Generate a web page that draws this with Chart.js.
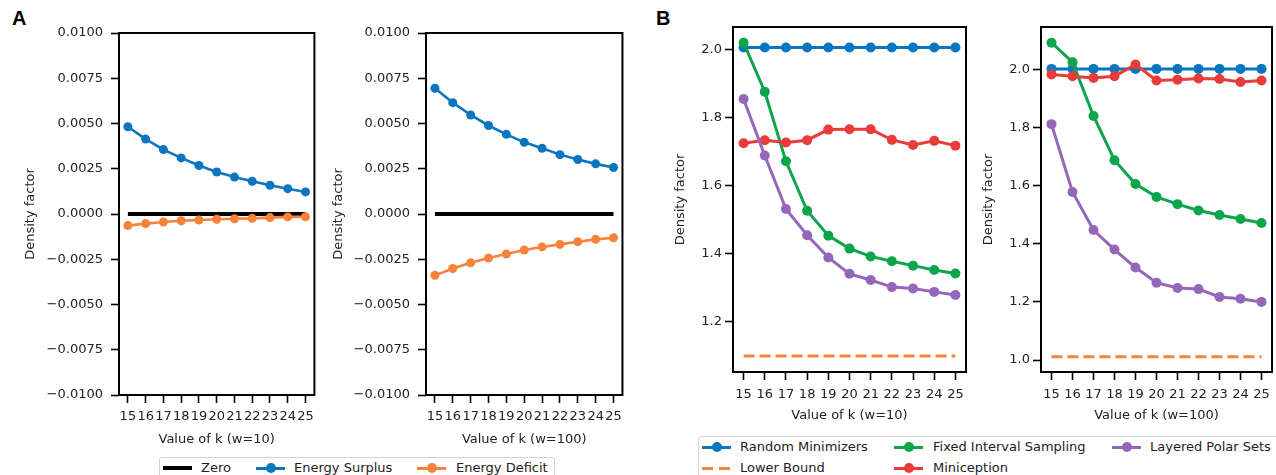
<!DOCTYPE html>
<html>
<head>
<meta charset="utf-8">
<script src="https://cdn.jsdelivr.net/npm/chart.js@4/dist/chart.umd.min.js"></script>
<style>
  body { margin: 0; width: 1276px; height: 475px; overflow: hidden; background: #fff; position: relative; font-family: "DejaVu Sans", sans-serif; }
  canvas { position: absolute; top: 0; }
  .tag { position: absolute; font: bold 20px "Liberation Sans", Arial, sans-serif; line-height: 20px; color: #000; }
  .legend-box { position: absolute; border: 1px solid #d4d4d4; border-radius: 3px; background: #fff; }
  .legend-text { position: absolute; font-size: 13px; line-height: 16px; color: #222; white-space: nowrap; }
  .handle { position: absolute; width: 29px; height: 16px; }
  .handle .ln { position: absolute; left: 0; right: 0; top: 50%; }
  .handle .dot { position: absolute; left: 50%; top: 50%; width: 10px; height: 10px; margin: -5px 0 0 -5px; border-radius: 50%; }
</style>
</head>
<body>
<div class="tag" style="left:12px;top:8px">A</div>
<div class="tag" style="left:656px;top:8px">B</div>
<canvas id="chart-a10"></canvas>
<canvas id="chart-a100"></canvas>
<canvas id="chart-b10"></canvas>
<canvas id="chart-b100"></canvas>
<script>
// 値はすべて図から読み取ったもの
const kValues = ["15", "16", "17", "18", "19", "20", "21", "22", "23", "24", "25"];

const zeroLine = [0, 0, 0, 0, 0, 0, 0, 0, 0, 0, 0];
const surplusW10 = [0.00482, 0.00414, 0.00356, 0.0031, 0.00268, 0.00232, 0.00204, 0.00181, 0.00159, 0.0014, 0.00122];
const deficitW10 = [-0.00064, -0.00053, -0.00044, -0.00037, -0.00033, -0.00029, -0.00026, -0.00024, -0.0002, -0.00016, -0.00015];
const surplusW100 = [0.00695, 0.00615, 0.00547, 0.00489, 0.0044, 0.00396, 0.00363, 0.00328, 0.00301, 0.00277, 0.00257];
const deficitW100 = [-0.00339, -0.00301, -0.0027, -0.00243, -0.00221, -0.00199, -0.00182, -0.00168, -0.00153, -0.0014, -0.00131];

const randomW10 = [2.005, 2.005, 2.005, 2.005, 2.005, 2.005, 2.005, 2.005, 2.005, 2.005, 2.005];
const lowerW10 = [1.1, 1.1, 1.1, 1.1, 1.1, 1.1, 1.1, 1.1, 1.1, 1.1, 1.1];
const fixedW10 = [2.019, 1.875, 1.671, 1.526, 1.453, 1.415, 1.392, 1.378, 1.365, 1.352, 1.342];
const miniW10 = [1.724, 1.733, 1.726, 1.733, 1.764, 1.765, 1.765, 1.734, 1.719, 1.731, 1.717];
const polarW10 = [1.854, 1.688, 1.531, 1.454, 1.389, 1.341, 1.323, 1.302, 1.298, 1.288, 1.279];

const randomW100 = [2.001, 2.001, 2.001, 2.001, 2.001, 2.001, 2.001, 2.001, 2.001, 2.001, 2.001];
const lowerW100 = [1.011, 1.011, 1.011, 1.011, 1.011, 1.011, 1.011, 1.011, 1.011, 1.011, 1.011];
const fixedW100 = [2.091, 2.024, 1.839, 1.687, 1.605, 1.561, 1.536, 1.514, 1.499, 1.485, 1.471];
const miniW100 = [1.982, 1.976, 1.97, 1.976, 2.016, 1.961, 1.964, 1.968, 1.966, 1.956, 1.961];
const polarW100 = [1.811, 1.578, 1.447, 1.38, 1.318, 1.266, 1.248, 1.244, 1.217, 1.211, 1.2];

const ticksA = [-0.01, -0.0075, -0.005, -0.0025, 0, 0.0025, 0.005, 0.0075, 0.01];
const ticksB10 = [1.2, 1.4, 1.6, 1.8, 2.0];
const ticksB100 = [1.0, 1.2, 1.4, 1.6, 1.8, 2.0];

(() => {
  const C = {
    black: "#000000",
    blue: "#0a76bf",
    orange: "#f7833a",
    green: "#0ca54c",
    red: "#ea3b3b",
    purple: "#9467b9",
  };
  const TEXT = "#222222";

  Chart.defaults.font.family = '"DejaVu Sans", sans-serif';
  Chart.defaults.font.size = 13;
  Chart.defaults.color = TEXT;

  // matplotlib 風の四角い枠
  const frame = {
    id: "frame",
    afterDatasetsDraw(chart) {
      const { ctx, chartArea: a } = chart;
      ctx.save();
      ctx.strokeStyle = "#000";
      ctx.lineWidth = 2;
      ctx.strokeRect(a.left, a.top, a.right - a.left, a.bottom - a.top);
      ctx.restore();
    },
  };

  function line(label, data, color, extra) {
    return Object.assign(
      {
        label,
        data,
        borderColor: color,
        backgroundColor: color,
        pointBackgroundColor: color,
        pointBorderWidth: 0,
        pointRadius: 4.5,
        pointHoverRadius: 4.5,
        borderWidth: 2.6,
        tension: 0,
        fill: false,
      },
      extra || {}
    );
  }

  // 後に描いた系列が上に来るように order を逆にふる
  function stacked(list) {
    return list.map((d, i) => Object.assign(d, { order: list.length - i }));
  }

  function fmtA(v) {
    if (Math.abs(v) < 1e-12) return "0.0000";
    return v.toFixed(4).replace("-", "\u2212");
  }

  function makePanel(p) {
    const canvas = document.getElementById(p.id);
    canvas.width = p.width;
    canvas.height = p.height;
    canvas.style.left = p.left + "px";

    return new Chart(canvas, {
      type: "line",
      data: { labels: kValues, datasets: stacked(p.datasets) },
      plugins: [frame],
      options: {
        responsive: false,
        animation: false,
        devicePixelRatio: 1,
        layout: { padding: { top: p.padTop, right: 3, left: 0, bottom: 0 } },
        plugins: { legend: { display: false }, tooltip: { enabled: false } },
        scales: {
          x: {
            type: "category",
            offset: true,
            border: { display: false },
            grid: { drawOnChartArea: false, drawTicks: true, tickLength: 8, tickWidth: 1.6, tickColor: "#000" },
            ticks: { autoSkip: false, maxRotation: 0, padding: p.xPad, color: TEXT, font: { size: 13 } },
            title: { display: true, text: p.xTitle, padding: 0, color: TEXT, font: { size: 13 } },
            afterFit: (s) => { s.height = p.xHeight; },
          },
          y: {
            type: "linear",
            min: p.yMin,
            max: p.yMax,
            border: { display: false },
            grid: { drawOnChartArea: false, drawTicks: true, tickLength: 8, tickWidth: 1.6, tickColor: "#000" },
            ticks: { padding: p.yPad, color: TEXT, font: { size: 13 }, callback: p.fmt },
            afterBuildTicks: (s) => { s.ticks = p.ticks.map((v) => ({ value: v })); },
            title: { display: true, text: "Density factor", padding: 0, color: TEXT, font: { size: 13 } },
            afterFit: (s) => { s.width = p.yWidth; },
          },
        },
      },
    });
  }

  function panelA(id, left, yWidth, xTitle, surplus, deficit) {
    makePanel({
      id, left, width: 297, height: 447, padTop: 33, yWidth, xHeight: 52, yPad: 8, xPad: 6,
      yMin: -0.01, yMax: 0.01, ticks: ticksA, fmt: fmtA, xTitle,
      datasets: [
        line("Zero", zeroLine, C.black, { borderWidth: 4, pointRadius: 0, pointHoverRadius: 0 }),
        line("Energy Surplus", surplus, C.blue),
        line("Energy Deficit", deficit, C.orange),
      ],
    });
  }

  function panelB(id, left, width, yMin, yMax, ticks, xTitle, series) {
    const dotted = { borderWidth: 3, pointRadius: 5, pointHoverRadius: 5 };
    makePanel({
      id, left, width, height: 423, padTop: 27, yWidth: 60, xHeight: 51, yPad: 3, xPad: 7,
      yMin, yMax, ticks, fmt: (v) => v.toFixed(1), xTitle,
      datasets: [
        line("Random Minimizers", series.random, C.blue, dotted),
        line("Lower Bound", series.lower, C.orange, { borderWidth: 3, borderDash: [11, 5], pointRadius: 0, pointHoverRadius: 0 }),
        line("Fixed Interval Sampling", series.fixed, C.green, dotted),
        line("Miniception", series.mini, C.red, dotted),
        line("Layered Polar Sets", series.polar, C.purple, dotted),
      ],
    });
  }

  panelA("chart-a10", 23, 96, "Value of k (w=10)", surplusW10, deficitW10);
  panelA("chart-a100", 331, 95, "Value of k (w=100)", surplusW100, deficitW100);
  panelB("chart-b10", 673, 298, 1.053, 2.065, ticksB10, "Value of k (w=10)",
    { random: randomW10, lower: lowerW10, fixed: fixedW10, mini: miniW10, polar: polarW10 });
  panelB("chart-b100", 981, 296, 0.959, 2.145, ticksB100, "Value of k (w=100)",
    { random: randomW100, lower: lowerW100, fixed: fixedW100, mini: miniW100, polar: polarW100 });

  // 凡例（HTML）
  function legendBox(left, top, width, height) {
    const d = document.createElement("div");
    d.className = "legend-box";
    Object.assign(d.style, { left: left + "px", top: top + "px", width: width + "px", height: height + "px" });
    document.body.appendChild(d);
  }

  function legendItem(x, textX, cy, label, color, kind) {
    const h = document.createElement("div");
    h.className = "handle";
    h.style.left = x + "px";
    h.style.top = cy - 8 + "px";
    const ln = document.createElement("div");
    ln.className = "ln";
    if (kind === "dash") {
      ln.style.height = "3px";
      ln.style.marginTop = "-1.5px";
      ln.style.background = `repeating-linear-gradient(90deg, ${color} 0 11px, transparent 11px 17px)`;
    } else {
      const lw = kind === "thick" ? 4 : 3;
      ln.style.height = lw + "px";
      ln.style.marginTop = -lw / 2 + "px";
      ln.style.background = color;
    }
    h.appendChild(ln);
    if (kind === "dot") {
      const dot = document.createElement("div");
      dot.className = "dot";
      dot.style.background = color;
      h.appendChild(dot);
    }
    document.body.appendChild(h);

    const t = document.createElement("div");
    t.className = "legend-text";
    t.textContent = label;
    t.style.left = textX + "px";
    t.style.top = cy - 8 + "px";
    document.body.appendChild(t);
  }

  legendBox(159, 457, 394, 40);
  legendItem(163, 201, 468, "Zero", C.black, "thick");
  legendItem(256, 294, 468, "Energy Surplus", C.blue, "dot");
  legendItem(417, 456, 468, "Energy Deficit", C.orange, "dot");

  legendBox(698, 436, 600, 60);
  legendItem(702, 740, 447, "Random Minimizers", C.blue, "dot");
  legendItem(702, 740, 468, "Lower Bound", C.orange, "dash");
  legendItem(894, 933, 447, "Fixed Interval Sampling", C.green, "dot");
  legendItem(894, 933, 468, "Miniception", C.red, "dot");
  legendItem(1112, 1150, 447, "Layered Polar Sets", C.purple, "dot");
})();
</script>
</body>
</html>
